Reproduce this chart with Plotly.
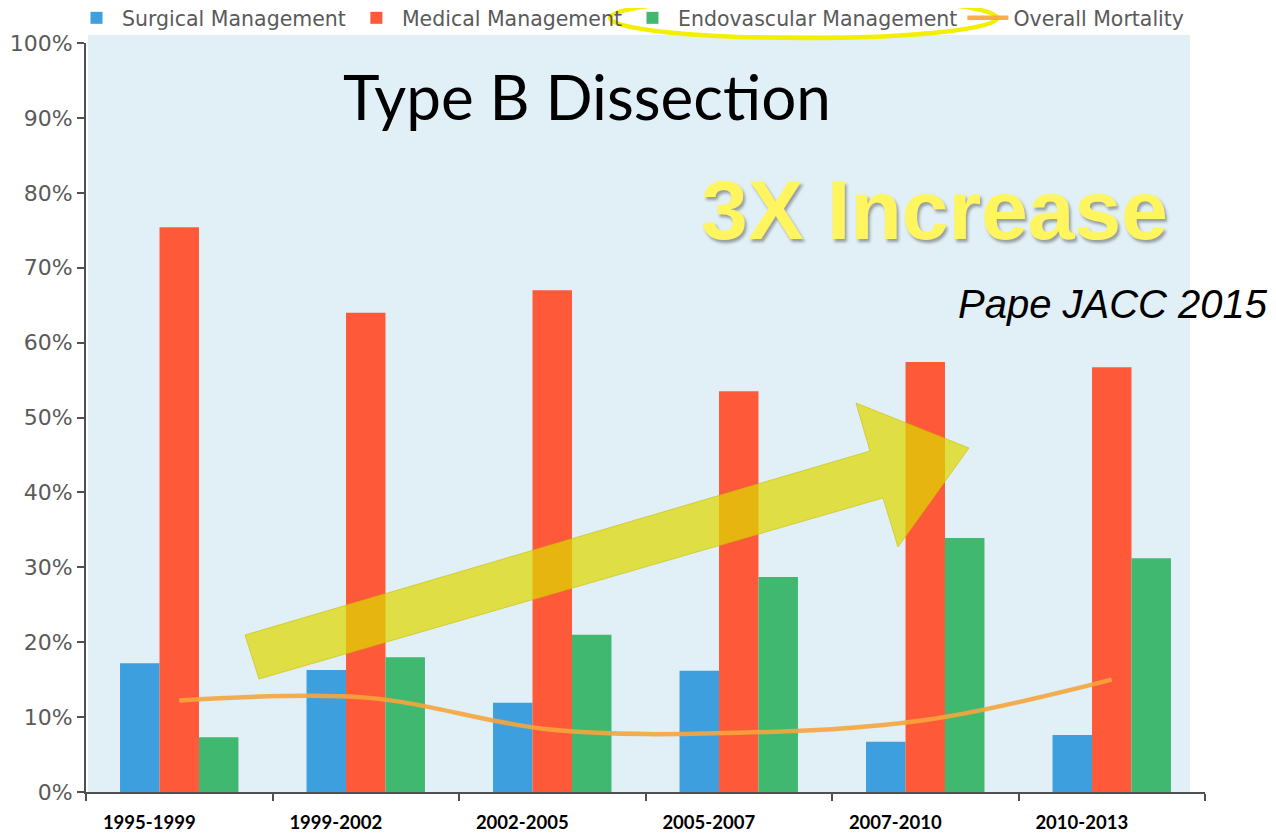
import plotly.graph_objects as go

# ---------------- data ----------------
periods = ["1995-1999", "1999-2002", "2002-2005", "2005-2007", "2007-2010", "2010-2013"]
surgical = [17.2, 16.3, 11.9, 16.2, 6.7, 7.6]
medical = [75.4, 64.0, 67.0, 53.5, 57.4, 56.7]
endovascular = [7.3, 18.0, 21.0, 28.7, 33.9, 31.2]
overall_mortality = [12.2, 12.6, 8.3, 7.9, 9.6, 15.0]
y_ticks = [0, 10, 20, 30, 40, 50, 60, 70, 80, 90, 100]

# ---------------- geometry helpers (for decorations only) ----------------
# The page body has an 8px margin, so the figure is drawn at (8, 8) in the window.
OFF = 8
W, H = 1276 - OFF, 834 - OFF
# plot area in window pixels
L, R, T, B = 86, 1205, 43, 792


def fx(p):
    return (p - L) / (R - L)


def fy(p):
    return (B - p) / (B - T)


fig = go.Figure()
fig.add_trace(go.Bar(name="Surgical Management", x=periods, y=surgical,
                     marker=dict(color="#3d9fdd", line=dict(width=0))))
fig.add_trace(go.Bar(name="Medical Management", x=periods, y=medical,
                     marker=dict(color="#fe5a3a", line=dict(width=0))))
fig.add_trace(go.Bar(name="Endovascular Management", x=periods, y=endovascular,
                     marker=dict(color="#40b870", line=dict(width=0))))
fig.add_trace(go.Scatter(name="Overall Mortality", x=periods, y=overall_mortality,
                         mode="lines", line=dict(color="rgba(246,165,60,0.9)", width=4.5,
                                                 shape="spline", smoothing=1.0)))

axis_col = "#505050"
fig.update_layout(
    width=W, height=H,
    margin=dict(l=L - OFF, r=(W + OFF) - R, t=T - OFF, b=(H + OFF) - B, pad=0, autoexpand=False),
    paper_bgcolor="white",
    plot_bgcolor="rgba(0,0,0,0)",
    barmode="group",
    bargap=0.365,
    bargroupgap=0,
    showlegend=True,
    legend=dict(orientation="h", x=fx(71), xanchor="left", y=fy(-2), yanchor="top",
                font=dict(family="DejaVu Sans", size=20.5, color="#5a5a5a"),
                itemwidth=41, bgcolor="rgba(0,0,0,0)", traceorder="normal"),
    xaxis=dict(type="category", showgrid=False, showline=True, linecolor=axis_col, linewidth=2,
               ticks="outside", tickson="boundaries", ticklen=7, tickcolor=axis_col, tickwidth=2,
               tickfont=dict(family="Lato", size=18.5, color="black", weight="bold"),
               ticklabelshift=-30, ticklabelstandoff=13, zeroline=False, automargin=False),
    yaxis=dict(range=[0, 100], tickvals=y_ticks, ticktext=[f"{v}%" for v in y_ticks],
               showgrid=False, showline=True, linecolor=axis_col, linewidth=2,
               ticks="outside", ticklen=7, tickcolor=axis_col, tickwidth=2,
               tickfont=dict(family="DejaVu Sans", size=22, color="#5a5a5a"),
               zeroline=False, automargin=False),
)

# light blue plot background panel
fig.add_shape(type="rect", xref="paper", yref="paper", x0=fx(88), x1=fx(1190), y0=0, y1=fy(35),
              fillcolor="#e1eff6", line=dict(width=0), layer="below")

# big yellow arrow
pts = [(245, 635), (870, 451), (856, 403), (969, 448), (898, 547), (883, 498), (259, 679)]
path = "M " + " L ".join(f"{fx(a):.5f},{fy(b):.5f}" for a, b in pts) + " Z"
fig.add_shape(type="path", xref="paper", yref="paper", path=path,
              fillcolor="rgba(222,216,0,0.72)", line=dict(color="rgba(200,190,0,0.6)", width=1),
              layer="above")

# ellipse around the endovascular legend entry
fig.add_shape(type="circle", xref="paper", yref="paper", x0=fx(610), x1=fx(997),
              y0=fy(38), y1=fy(-2), line=dict(color="#f4ee00", width=4.5), layer="above")

fig.add_annotation(text="Type B Dissection", xref="paper", yref="paper",
                   x=fx(587), y=fy(96), xanchor="center", yanchor="middle", showarrow=False,
                   font=dict(family="Lato", size=62, color="black"))
fig.add_annotation(text="3X Increase", xref="paper", yref="paper",
                   x=fx(934), y=fy(210), xanchor="center", yanchor="middle", showarrow=False,
                   font=dict(family="Liberation Sans", size=84, color="#fff55e", weight="bold",
                             shadow="2px 3px 3px rgba(60,60,60,0.45)"))
fig.add_annotation(text="Pape JACC 2015", xref="paper", yref="paper",
                   x=fx(1270), y=fy(304), xanchor="right", yanchor="middle", showarrow=False,
                   font=dict(family="Liberation Sans", size=40, color="black", style="italic"))

fig.write_html("out.html")
